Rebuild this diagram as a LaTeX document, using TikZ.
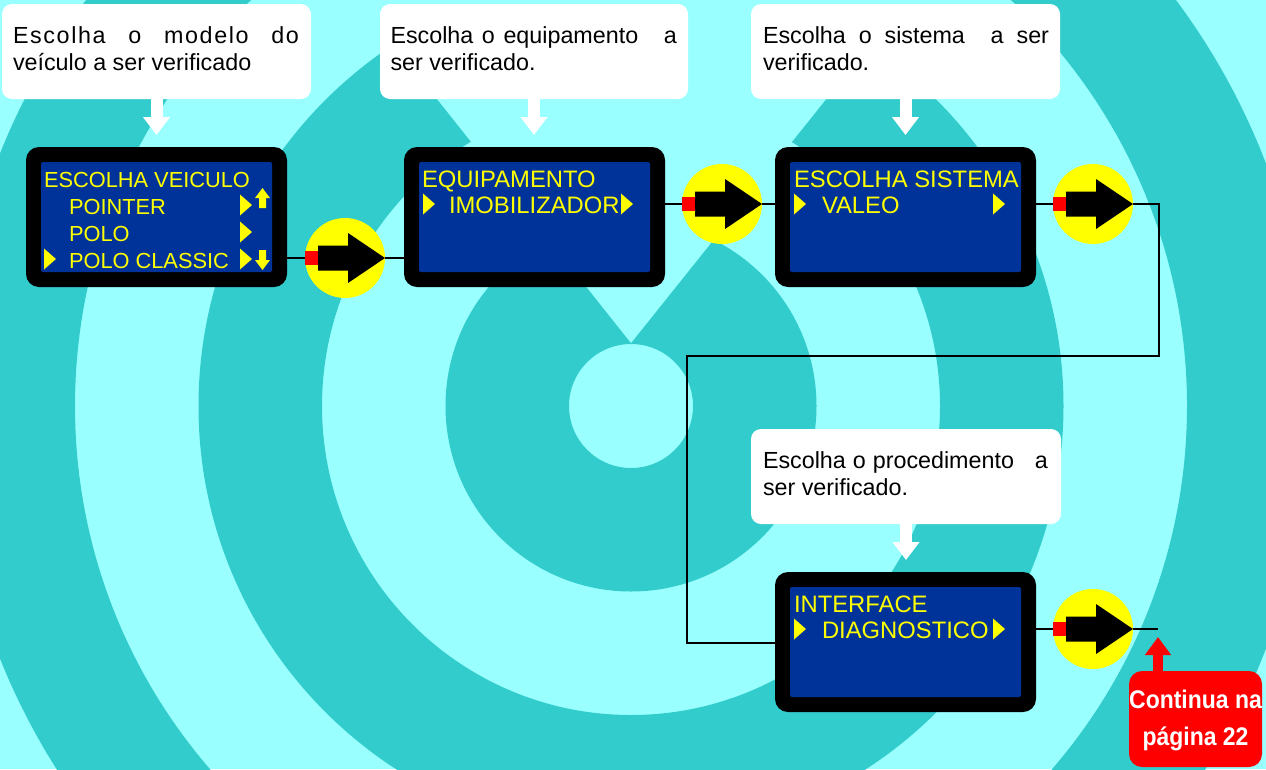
\documentclass[tikz,border=0pt]{standalone}
\usepackage{fontspec}
\setmainfont{Liberation Sans}
\newfontfamily\narrowfont[FakeStretch=0.9]{Liberation Sans}
\usetikzlibrary{arrows.meta}
\definecolor{lightbg}{HTML}{99FFFF}
\definecolor{darkbg}{HTML}{33CCCC}
\definecolor{scrblue}{HTML}{003399}
\definecolor{ylw}{HTML}{FFFF00}
\definecolor{redc}{HTML}{FF0000}
\tikzset{
  callout/.style={fill=white, rounded corners=10pt, inner sep=0pt, outer sep=0pt, anchor=north west, minimum height=95pt},
  devbox/.style={fill=black, rounded corners=13pt, minimum width=261pt, minimum height=140pt, inner sep=0pt, outer sep=0pt, anchor=north west},
  screen/.style={fill=scrblue, rounded corners=2pt, minimum width=231pt, minimum height=110pt, inner sep=0pt, outer sep=0pt, anchor=north west},
  gobtn/.style={circle, fill=ylw, minimum size=80pt, inner sep=0pt, outer sep=0pt},
  ctext/.style={anchor=base west, inner sep=0pt, outer sep=0pt, font=\fontsize{23.3}{27}\selectfont, text=black},
  stext/.style={anchor=base west, inner sep=0pt, outer sep=0pt, font=\fontsize{23.8}{27}\selectfont, text=ylw},
  stextA/.style={stext, font=\fontsize{21.8}{27}\selectfont},
  conttext/.style={anchor=base, inner sep=0pt, outer sep=0pt, text=white, font=\narrowfont\bfseries\fontsize{25.5}{30}\selectfont},
  link/.style={line width=2pt, black, line join=miter},
  hint/.style={white, line width=12pt, -{Triangle[length=18pt,width=26pt]}, shorten >=12pt},
}
\newcommand\goicon[1]{%
  \begin{scope}[shift={(#1.center)}]
    \fill[redc] (-40,-7) rectangle (-27,7);
    \fill[black] (-27,-12.5) -- (3,-12.5) -- (3,-25) -- (40,0) -- (3,25) -- (3,12.5) -- (-27,12.5) -- cycle;
  \end{scope}}
\newcommand\ptri[2]{\fill[ylw] (#1,#2-19.5) -- (#1+12,#2-9) -- (#1,#2+1.5) -- cycle;}
\begin{document}
\begin{tikzpicture}[x=1pt,y=-1pt]
\useasboundingbox (0,0) rectangle (1266,769);
% background
\begin{scope}
  \clip (0,0) rectangle (1266,769);
  \fill[lightbg] (0,0) rectangle (1266,769);
  \fill[darkbg, even odd rule]
    (631,406) circle[radius=62] (631,406) circle[radius=185.5]
    (631,406) circle[radius=309] (631,406) circle[radius=432.5]
    (631,406) circle[radius=556] (631,406) circle[radius=679.5]
    (631,406) circle[radius=803] (631,406) circle[radius=926.5];
  \fill[lightbg] (631,343) -- (154,-257) -- (1111,-257) -- cycle;
\end{scope}

% callouts
\node[callout, minimum width=309pt] (c1) at (2,4) {};
\node[callout, minimum width=308pt] (c2) at (380,4) {};
\node[callout, minimum width=309pt] (c3) at (751,4) {};
\node[callout, minimum width=310pt] (c4) at (751,429) {};
\node[ctext] (t1a) at (13,43) {\makebox[286pt][s]{\addfontfeatures{LetterSpace=7}Escolha o modelo do}};
\node[ctext] (t1b) at (13,70) {veículo a ser verificado};
\node[ctext] (t2a) at (390.5,43) {\makebox[286.5pt][s]{Escolha o equipamento\ \ \ a}};
\node[ctext] (t2b) at (390.5,70) {ser verificado.};
\node[ctext] (t3a) at (763,43) {\makebox[286pt][s]{Escolha o sistema\ \ a ser}};
\node[ctext] (t3b) at (763,70) {verificado.};
\node[ctext] (t4a) at (763,468) {\makebox[285pt][s]{Escolha o procedimento\ \ \ a}};
\node[ctext] (t4b) at (763,495) {ser verificado.};

% devices
\node[devbox] (box1) at (26,147) {};
\node[devbox] (box2) at (404,147) {};
\node[devbox] (box3) at (775,147) {};
\node[devbox] (box4) at (775,572) {};
\node[screen] (scr1) at (41,162) {};
\node[screen] (scr2) at (419,162) {};
\node[screen] (scr3) at (790,162) {};
\node[screen] (scr4) at (790,587) {};

% callout arrows
\draw[hint] (c1.south) -- (c1.south |- box1.north);
\draw[hint] (c2.south) -- (c2.south |- box2.north);
\draw[hint] (c3.south) -- (c3.south |- box3.north);
\draw[hint] (c4.south) -- (c4.south |- box4.north);

% screen texts
\node[stextA] (s1a) at (44,187) {ESCOLHA VEICULO};
\node[stextA] (s1b) at (69,214) {POINTER};
\node[stextA] (s1c) at (69,241) {POLO};
\node[stextA] (s1d) at (69,268) {POLO CLASSIC};
\ptri{240}{214}
\ptri{240}{241}
\ptri{240}{268}
\ptri{44}{268}
\fill[ylw] (255,198) -- (262.5,188) -- (270,198) -- (266,198) -- (266,208) -- (259,208) -- (259,198) -- cycle;
\fill[ylw] (255,260) -- (262.5,270) -- (270,260) -- (266,260) -- (266,250) -- (259,250) -- (259,260) -- cycle;

\node[stext] (s2a) at (422,187) {EQUIPAMENTO};
\node[stext] (s2b) at (449,213) {IMOBILIZADOR};
\ptri{423}{213}
\ptri{621}{213}

\node[stext] (s3a) at (794,187) {ESCOLHA SISTEMA};
\node[stext] (s3b) at (822,213) {VALEO};
\ptri{794}{213}
\ptri{993}{213}

\node[stext] (s4a) at (794,612) {INTERFACE};
\node[stext] (s4b) at (822,638) {DIAGNOSTICO};
\ptri{794}{638}
\ptri{993}{638}

% buttons
\node[gobtn] (go1) at (345,258) {};
\node[gobtn] (go2) at (722,204) {};
\node[gobtn] (go3) at (1093,204) {};
\node[gobtn] (go4) at (1093,629) {};
\coordinate (k1) at (1159,356);
\coordinate (k2) at (687,643);
\coordinate (end4) at (1158,629);

% connectors
\draw[link] (box1.east |- go1.west) -- (go1.west);
\draw[link] (go1.east) -- (box2.west |- go1.east);
\draw[link] (box2.east |- go2.west) -- (go2.west);
\draw[link] (go2.east) -- (box3.west |- go2.east);
\draw[link] (box3.east |- go3.west) -- (go3.west);
\draw[link] (go3.east) -| (k1) -| (k2) -- (box4.west |- k2);
\draw[link] (box4.east |- go4.west) -- (go4.west);
\draw[link] (go4.east) -- (end4);

\goicon{go1}
\goicon{go2}
\goicon{go3}
\goicon{go4}

% continuation
\node[fill=redc, rounded corners=13pt, minimum width=133pt, minimum height=96pt, inner sep=0pt, outer sep=0pt, anchor=north west] (cont) at (1129,671) {};
\draw[redc, line width=10pt, -{Triangle[length=18pt,width=25pt]}, shorten >=8pt] (cont.north -| end4) -- (end4);
\node[conttext] (ct1) at (1195.5,708) {Continua na};
\node[conttext] (ct2) at (1195.5,745) {página 22};
\end{tikzpicture}
\end{document}
